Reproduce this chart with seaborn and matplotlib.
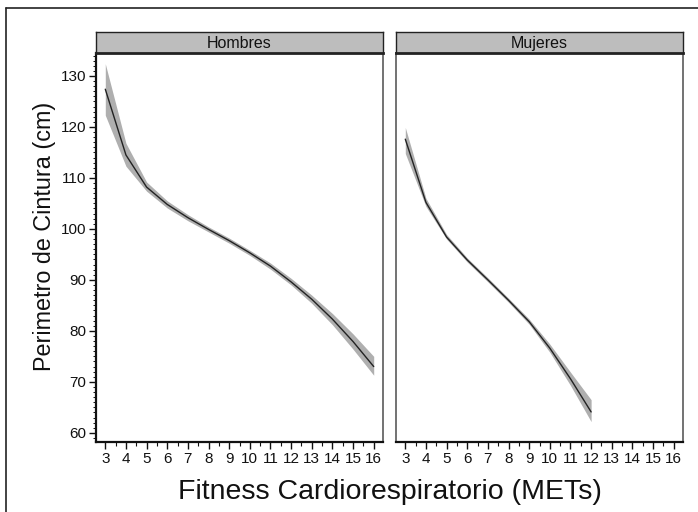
"""Waist circumference vs cardiorespiratory fitness, by sex."""

import matplotlib

matplotlib.use("Agg")
import matplotlib.pyplot as plt
from matplotlib.lines import Line2D
from matplotlib.ticker import MultipleLocator
import pandas as pd
import seaborn as sns

# Hombres
mets_h = [3, 4, 5, 6, 7, 8, 9, 10, 11, 12, 13, 14, 15, 16]
waist_h = [127.4, 114.5, 108.2, 104.8, 102.2, 99.9, 97.7, 95.3, 92.7, 89.6, 86.2, 82.3, 77.9, 73.0]
lower_h = [122.3, 112.3, 107.4, 104.1, 101.6, 99.4, 97.2, 94.8, 92.1, 89.0, 85.4, 81.2, 76.4, 71.3]
upper_h = [132.4, 116.8, 109.2, 105.5, 102.8, 100.4, 98.2, 95.8, 93.3, 90.3, 87.0, 83.4, 79.4, 75.0]

# Mujeres
mets_m = [3, 4, 5, 6, 7, 8, 9, 10, 11, 12]
waist_m = [117.6, 105.2, 98.4, 93.9, 90.0, 86.0, 81.8, 76.6, 70.6, 64.1]
lower_m = [114.8, 104.4, 98.0, 93.5, 89.6, 85.6, 81.3, 75.8, 69.3, 62.2]
upper_m = [119.9, 106.0, 98.9, 94.3, 90.4, 86.4, 82.3, 77.4, 71.9, 66.5]

panels = ["Hombres", "Mujeres"]
x_ticks = list(range(3, 17))
y_ticks = [60, 70, 80, 90, 100, 110, 120, 130]

df = pd.concat(
    [
        pd.DataFrame({"sexo": "Hombres", "mets": mets_h, "cintura": waist_h, "lo": lower_h, "hi": upper_h}),
        pd.DataFrame({"sexo": "Mujeres", "mets": mets_m, "cintura": waist_m, "lo": lower_m, "hi": upper_m}),
    ],
    ignore_index=True,
)

sns.set_theme(style="white")
plt.rcParams["font.family"] = ["Liberation Sans", "DejaVu Sans"]

fig = plt.figure(figsize=(6.98, 5.12), dpi=100)

W, H = 698, 512
ax_left = [96, 396]
ax_w = 287
ax_top, ax_bottom = 53, 442
strip_top = 32

for i, name in enumerate(panels):
    ax = fig.add_axes([ax_left[i] / W, 1 - ax_bottom / H, ax_w / W, (ax_bottom - ax_top) / H])
    sub = df[df["sexo"] == name]
    ax.fill_between(sub["mets"], sub["lo"], sub["hi"], color="#a6a6a6", linewidth=0, alpha=0.9)
    sns.lineplot(data=sub, x="mets", y="cintura", ax=ax, color="#222222", linewidth=1.0)

    ax.set_xlim(2.55, 16.45)
    ax.set_ylim(58.2, 134.5)
    ax.set_xticks(x_ticks)
    ax.set_xticklabels([str(t) for t in x_ticks])
    ax.xaxis.set_minor_locator(MultipleLocator(0.5))
    ax.set_xlabel("")
    ax.set_ylabel("")

    for side, spine in ax.spines.items():
        spine.set_visible(True)
        spine.set_color("#5a5a5a")
        spine.set_linewidth(1.2)
    ax.spines["bottom"].set_color("#111111")
    ax.spines["bottom"].set_linewidth(1.6)

    ax.tick_params(axis="x", which="major", direction="out", length=5, width=1.0,
                   color="#111111", labelsize=11, labelcolor="#111111", pad=2, bottom=True)
    ax.tick_params(axis="x", which="minor", direction="out", length=3, width=0.8,
                   color="#111111", bottom=True)

    if i == 0:
        ax.set_yticks(y_ticks)
        ax.yaxis.set_minor_locator(MultipleLocator(1))
        ax.tick_params(axis="y", which="major", direction="out", length=5, width=1.0,
                       color="#111111", labelsize=11, labelcolor="#111111", pad=2, left=True)
        ax.tick_params(axis="y", which="minor", direction="out", length=2.5, width=0.7,
                       color="#111111", left=True)
        ax.spines["left"].set_color("#111111")
        ax.spines["left"].set_linewidth(1.6)
    else:
        ax.set_yticks([])
        ax.tick_params(axis="y", which="both", left=False, labelleft=False)

    # facet strip
    sax = fig.add_axes([ax_left[i] / W, 1 - ax_top / H, ax_w / W, (ax_top - strip_top) / H])
    sax.set_xticks([])
    sax.set_yticks([])
    sax.set_facecolor("#bdbdbd")
    for side, spine in sax.spines.items():
        spine.set_visible(True)
        spine.set_color("#222222")
        spine.set_linewidth(1.0)
    sax.spines["bottom"].set_linewidth(2.0)
    sax.text(0.5, 0.47, name, ha="center", va="center", fontsize=11.5, color="#111111",
             transform=sax.transAxes)

fig.text(0.5 * (96 + 683) / W, 1 - 492 / H, "Fitness Cardiorespiratorio (METs)",
         ha="center", va="center", fontsize=20.5, color="#111111")
fig.text(45 / W, 1 - 236 / H, "Perimetro de Cintura (cm)", ha="center", va="center",
         rotation=90, fontsize=16.8, color="#111111")

# outer frame (left and top only)
fig.add_artist(Line2D([6 / W, 6 / W], [0, 1 - 8 / H], transform=fig.transFigure,
                      color="#222222", linewidth=1.2))
fig.add_artist(Line2D([6 / W, 1], [1 - 8 / H, 1 - 8 / H], transform=fig.transFigure,
                      color="#222222", linewidth=1.2))

fig.savefig("out.png", dpi=100)
plt.close(fig)
